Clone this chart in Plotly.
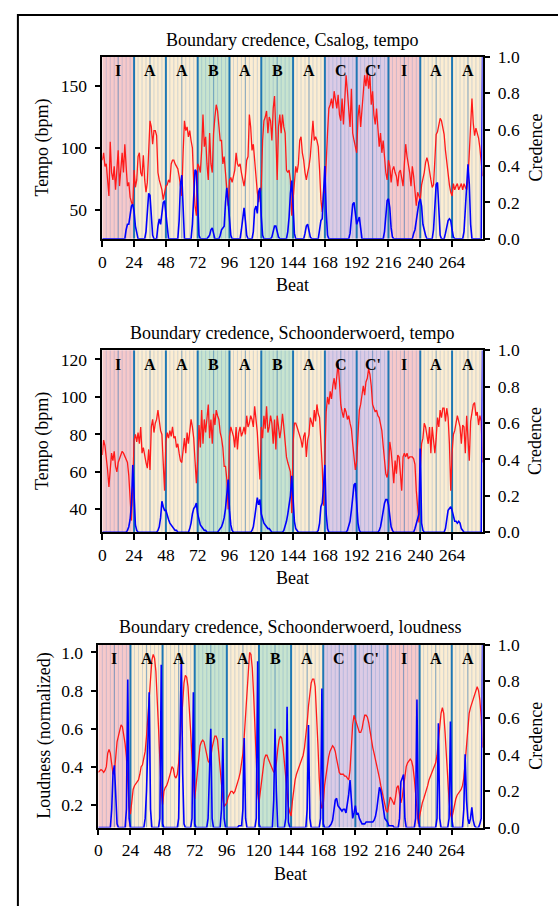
import plotly.graph_objects as go

W, H = 558, 906

beats = list(range(288))
section_labels = ["I", "A", "A", "B", "A", "B", "A", "C", "C'", "I", "A", "A"]
section_starts = [0, 24, 48, 72, 96, 120, 144, 168, 192, 216, 240, 264]
section_colors = {"I": "#f7c9ca", "A": "#fcedd2", "B": "#c8e4cf", "C": "#dccbe5", "C'": "#dccbe5"}

x_ticks = [0, 24, 48, 72, 96, 120, 144, 168, 192, 216, 240, 264]
cred_ticks = [0.0, 0.2, 0.4, 0.6, 0.8, 1.0]

# ---- Panel 1: Csalog tempo ----
csalog_tempo = [
    90, 96, 85, 87, 74, 61, 105, 80, 74, 85, 66, 86, 98, 69, 85, 96, 80, 103, 85, 69, 72, 60, 56, 53,
    82, 68, 74, 93, 96, 80, 77, 94, 74, 64, 72, 98, 122, 117, 103, 114, 114, 110, 80, 74, 69, 66, 58, 64,
    69, 70, 74, 72, 87, 90, 90, 87, 85, 83, 77, 69, 61, 96, 122, 114, 117, 109, 114, 106, 100, 72, 53, 45,
    87, 85, 80, 98, 127, 101, 109, 87, 74, 112, 87, 80, 112, 125, 135, 130, 117, 106, 106, 87, 93, 80, 64, 53,
    74, 76, 72, 76, 82, 96, 87, 85, 87, 80, 74, 69, 77, 90, 93, 127, 117, 98, 103, 90, 74, 64, 56, 64,
    69, 106, 122, 125, 130, 112, 125, 122, 106, 132, 142, 112, 74, 117, 127, 112, 127, 117, 112, 82, 80, 82, 74, 45,
    60, 74, 85, 80, 87, 106, 109, 96, 90, 80, 74, 80, 85, 93, 112, 122, 106, 109, 106, 101, 82, 58, 48, 64,
    64, 96, 112, 132, 135, 140, 132, 146, 140, 132, 143, 127, 122, 140, 119, 137, 159, 146, 127, 117, 148, 112, 106, 101,
    96, 125, 135, 117, 132, 143, 159, 150, 161, 148, 159, 135, 146, 127, 119, 132, 117, 101, 112, 96, 106, 90, 80, 74,
    90, 85, 72, 82, 85, 80, 77, 69, 80, 82, 74, 69, 87, 103, 93, 87, 80, 69, 85, 77, 64, 53, 64, 61,
    58, 70, 74, 80, 88, 92, 88, 79, 74, 68, 70, 90, 111, 113, 119, 124, 122, 116, 111, 98, 87, 76, 70, 64,
    61, 71, 66, 69, 71, 66, 69, 71, 66, 71, 68, 66, 74, 96, 108, 140, 120, 110, 116, 112, 108, 100, 90, 77,
]
csalog_credence = [
    0, 0, 0, 0, 0, 0, 0, 0, 0, 0, 0, 0, 0, 0, 0, 0, 0, 0, 0.05, 0.08, 0.08, 0.14, 0.18, 0.19,
    0.15, 0.07, 0.03, 0, 0, 0, 0, 0, 0, 0.04, 0.15, 0.25, 0.24, 0.1, 0.02, 0, 0, 0, 0.07, 0.11, 0.08, 0.15, 0.2, 0.21,
    0.14, 0.05, 0, 0, 0, 0, 0, 0, 0, 0, 0.1, 0.3, 0.35, 0.15, 0, 0, 0, 0, 0, 0, 0.08, 0.25, 0.38, 0.37,
    0.15, 0.02, 0, 0, 0, 0, 0, 0, 0.01, 0.02, 0.05, 0.06, 0.03, 0, 0, 0, 0, 0.02, 0.05, 0.06, 0.07, 0.2, 0.28, 0.2,
    0.08, 0.02, 0, 0, 0, 0, 0, 0, 0, 0.05, 0.13, 0.17, 0.1, 0.02, 0, 0, 0, 0, 0.04, 0.16, 0.18, 0.14, 0.26, 0.28,
    0.12, 0.02, 0, 0, 0, 0, 0, 0, 0.01, 0.04, 0.07, 0.07, 0.04, 0.01, 0, 0, 0, 0, 0, 0, 0.04, 0.12, 0.25, 0.32,
    0.18, 0.03, 0, 0, 0, 0, 0, 0, 0, 0.03, 0.07, 0.08, 0.04, 0.01, 0, 0, 0, 0, 0, 0, 0.05, 0.1, 0.11, 0.3,
    0.4, 0.15, 0.02, 0, 0, 0, 0, 0, 0, 0, 0, 0, 0, 0, 0, 0, 0, 0, 0, 0.03, 0.12, 0.19, 0.2, 0.14,
    0.08, 0.1, 0.12, 0.06, 0, 0, 0, 0, 0, 0, 0, 0, 0, 0, 0, 0, 0, 0, 0, 0, 0, 0.04, 0.14, 0.21,
    0.22, 0.17, 0.06, 0.01, 0, 0, 0, 0, 0, 0, 0, 0, 0, 0, 0, 0, 0, 0, 0, 0.03, 0.05, 0.1, 0.16, 0.2,
    0.22, 0.18, 0.08, 0.04, 0.02, 0, 0, 0, 0, 0, 0.05, 0.18, 0.3, 0.31, 0.12, 0.02, 0, 0, 0, 0.03, 0.07, 0.1, 0.11, 0.1,
    0.05, 0.01, 0, 0, 0, 0, 0, 0, 0, 0.04, 0.15, 0.3, 0.41, 0.3, 0.08, 0, 0, 0, 0, 0, 0, 0, 0, 1.0,
]

# ---- Panel 2: Schoonderwoerd tempo ----
schoon_tempo = [
    69, 77, 74, 68, 61, 52, 63, 70, 66, 71, 63, 60, 65, 67, 68, 71, 70, 68, 66, 65, 58, 45, 34, 52,
    77, 80, 76, 81, 75, 84, 70, 73, 68, 65, 62, 72, 61, 84, 88, 81, 86, 88, 93, 88, 82, 80, 68, 50,
    76, 81, 78, 82, 79, 84, 78, 79, 73, 75, 70, 66, 65, 72, 78, 70, 81, 75, 82, 88, 84, 78, 66, 54,
    66, 85, 73, 93, 75, 88, 81, 91, 96, 78, 88, 75, 91, 85, 93, 90, 88, 81, 78, 73, 63, 63, 56, 40,
    79, 84, 81, 79, 73, 84, 72, 81, 84, 79, 81, 84, 80, 90, 84, 86, 90, 88, 84, 95, 88, 81, 68, 56,
    84, 78, 90, 83, 95, 81, 84, 90, 86, 75, 88, 72, 90, 83, 78, 83, 91, 84, 75, 68, 65, 62, 60, 38,
    75, 86, 86, 84, 82, 80, 77, 73, 79, 81, 68, 77, 80, 89, 87, 84, 93, 87, 96, 91, 89, 77, 63, 42,
    70, 92, 100, 96, 103, 99, 106, 110, 104, 113, 118, 108, 96, 92, 89, 94, 92, 88, 90, 86, 83, 75, 66, 61,
    66, 80, 93, 96, 103, 106, 101, 108, 110, 115, 112, 106, 96, 94, 92, 93, 90, 89, 86, 82, 74, 66, 59, 57,
    62, 76, 71, 63, 54, 66, 59, 69, 68, 59, 50, 68, 70, 68, 70, 67, 68, 68, 68, 67, 64, 50, 40, 33,
    62, 75, 78, 86, 84, 80, 75, 84, 70, 84, 77, 70, 78, 89, 84, 93, 89, 94, 94, 87, 94, 89, 75, 50,
    70, 80, 82, 86, 90, 87, 84, 75, 85, 84, 70, 90, 77, 66, 87, 92, 96, 97, 90, 92, 85, 90, 87, 65,
]
schoon_tempo_credence = [
    0, 0, 0, 0, 0, 0, 0, 0, 0, 0, 0, 0, 0, 0, 0, 0, 0, 0, 0, 0.01, 0.03, 0.07, 0.15, 0.37,
    0.15, 0.04, 0.01, 0, 0, 0, 0, 0, 0, 0, 0, 0, 0, 0, 0, 0, 0, 0, 0.01, 0.03, 0.08, 0.17, 0.14, 0.12,
    0.12, 0.09, 0.07, 0.05, 0.04, 0.03, 0.02, 0.01, 0.01, 0, 0, 0, 0, 0, 0, 0, 0, 0, 0.02, 0.05, 0.1, 0.13, 0.14, 0.16,
    0.1, 0.06, 0.04, 0.03, 0.02, 0.01, 0.01, 0, 0, 0, 0, 0, 0, 0, 0, 0, 0.01, 0.02, 0.03, 0.05, 0.08, 0.13, 0.2, 0.29,
    0.12, 0.04, 0.01, 0, 0, 0, 0, 0, 0, 0, 0, 0, 0, 0, 0, 0, 0, 0.01, 0.03, 0.08, 0.15, 0.19, 0.15, 0.18,
    0.1, 0.07, 0.05, 0.04, 0.03, 0.02, 0.02, 0.01, 0, 0, 0, 0, 0, 0, 0, 0, 0, 0.01, 0.03, 0.06, 0.1, 0.14, 0.2, 0.31,
    0.2, 0.06, 0.02, 0.01, 0, 0, 0, 0, 0, 0, 0, 0, 0, 0, 0, 0, 0, 0, 0, 0.01, 0.05, 0.14, 0.16, 0.25,
    0.37, 0.1, 0.02, 0, 0, 0, 0, 0, 0, 0, 0, 0, 0, 0, 0, 0, 0, 0.01, 0.03, 0.06, 0.12, 0.19, 0.26, 0.27,
    0.15, 0.05, 0.01, 0, 0, 0, 0, 0, 0, 0, 0, 0, 0, 0, 0, 0, 0, 0.01, 0.03, 0.07, 0.12, 0.16, 0.18, 0.18,
    0.15, 0.08, 0.03, 0.01, 0, 0, 0, 0, 0, 0, 0, 0, 0, 0, 0, 0, 0, 0, 0, 0, 0.02, 0.05, 0.07, 0.1,
    0.46, 0.05, 0.01, 0, 0, 0, 0, 0, 0, 0, 0, 0, 0, 0, 0, 0, 0, 0, 0, 0.02, 0.06, 0.12, 0.13, 0.14,
    0.12, 0.08, 0.06, 0.06, 0.05, 0.06, 0.05, 0.02, 0.01, 0, 0, 0, 0, 0, 0, 0, 0, 0, 0, 0, 0, 0, 0, 1.0,
]

# ---- Panel 3: Schoonderwoerd loudness ----
schoon_loudness = [
    0.37, 0.38, 0.385, 0.38, 0.37, 0.38, 0.40, 0.47, 0.49, 0.47, 0.40, 0.36, 0.37, 0.45, 0.53, 0.56, 0.60, 0.62, 0.61, 0.57, 0.52, 0.45, 0.33, 0.19,
    0.15, 0.22, 0.28, 0.30, 0.31, 0.32, 0.33, 0.36, 0.40, 0.41, 0.44, 0.48, 0.56, 0.66, 0.78, 0.90, 0.96, 0.99, 0.97, 0.90, 0.78, 0.60, 0.43, 0.27,
    0.20, 0.27, 0.29, 0.30, 0.32, 0.34, 0.37, 0.40, 0.39, 0.35, 0.34, 0.36, 0.42, 0.52, 0.64, 0.76, 0.84, 0.88, 0.87, 0.82, 0.72, 0.58, 0.44, 0.30,
    0.23, 0.30, 0.38, 0.46, 0.51, 0.53, 0.54, 0.53, 0.50, 0.46, 0.43, 0.42, 0.45, 0.50, 0.54, 0.56, 0.56, 0.54, 0.47, 0.38, 0.30, 0.23, 0.19, 0.20,
    0.21, 0.24, 0.26, 0.27, 0.27, 0.26, 0.27, 0.29, 0.31, 0.34, 0.37, 0.41, 0.47, 0.56, 0.68, 0.82, 0.94, 1.00, 0.99, 0.92, 0.78, 0.58, 0.40, 0.26,
    0.21, 0.27, 0.34, 0.40, 0.44, 0.46, 0.46, 0.44, 0.42, 0.40, 0.38, 0.37, 0.38, 0.42, 0.49, 0.54, 0.56, 0.55, 0.50, 0.42, 0.33, 0.25, 0.19, 0.16,
    0.14, 0.22, 0.28, 0.33, 0.36, 0.38, 0.40, 0.42, 0.44, 0.46, 0.50, 0.56, 0.63, 0.72, 0.79, 0.84, 0.86, 0.86, 0.82, 0.70, 0.52, 0.34, 0.22, 0.18,
    0.20, 0.30, 0.36, 0.41, 0.45, 0.48, 0.50, 0.51, 0.50, 0.48, 0.44, 0.40, 0.37, 0.36, 0.36, 0.36, 0.35, 0.35, 0.34, 0.33, 0.38, 0.50, 0.62, 0.67,
    0.65, 0.62, 0.60, 0.58, 0.58, 0.60, 0.64, 0.67, 0.67, 0.66, 0.63, 0.58, 0.54, 0.50, 0.47, 0.44, 0.41, 0.37, 0.34, 0.30, 0.27, 0.23, 0.20, 0.17,
    0.16, 0.20, 0.24, 0.23, 0.21, 0.20, 0.24, 0.29, 0.30, 0.25, 0.21, 0.24, 0.30, 0.35, 0.40, 0.42, 0.43, 0.44, 0.43, 0.40, 0.34, 0.25, 0.15, 0.10,
    0.14, 0.18, 0.21, 0.23, 0.25, 0.27, 0.30, 0.33, 0.35, 0.37, 0.38, 0.40, 0.42, 0.46, 0.54, 0.62, 0.68, 0.71, 0.68, 0.58, 0.45, 0.32, 0.22, 0.15,
    0.13, 0.16, 0.20, 0.23, 0.25, 0.26, 0.27, 0.28, 0.30, 0.34, 0.42, 0.52, 0.62, 0.68, 0.71, 0.73, 0.75, 0.77, 0.80, 0.82, 0.80, 0.75, 0.66, 0.50,
]
schoon_loudness_credence = [
    0, 0, 0, 0, 0, 0, 0, 0, 0, 0, 0.1, 0.3, 0.34, 0.15, 0.02, 0, 0, 0, 0, 0, 0, 0.1, 0.81, 0.05,
    0, 0, 0, 0, 0, 0, 0, 0, 0, 0, 0, 0.05, 0.2, 0.45, 0.74, 0.1, 0, 0, 0, 0, 0, 0, 0.05, 0.89,
    0.02, 0, 0, 0, 0, 0, 0, 0, 0, 0, 0, 0, 0.05, 0.5, 0.93, 0.3, 0.02, 0, 0, 0, 0, 0, 0.05, 0.74,
    0.02, 0, 0, 0, 0, 0, 0, 0, 0, 0, 0.05, 0.3, 0.54, 0.05, 0, 0, 0, 0, 0, 0, 0.1, 0.49, 0.05, 0,
    0, 0, 0, 0, 0, 0, 0, 0, 0, 0.01, 0.01, 0.01, 0.1, 0.49, 0.05, 0, 0, 0, 0, 0, 0, 0, 0.05, 0.91,
    0.02, 0, 0, 0, 0, 0, 0, 0, 0, 0, 0, 0.15, 0.54, 0.2, 0, 0, 0, 0, 0, 0, 0.05, 0.66, 0.03, 0,
    0, 0, 0, 0, 0, 0, 0, 0, 0, 0, 0, 0, 0.1, 0.56, 0.05, 0, 0, 0, 0, 0, 0, 0, 0.05, 0.76,
    0.02, 0, 0, 0, 0, 0.01, 0.02, 0.04, 0.1, 0.15, 0.16, 0.12, 0.11, 0.1, 0.09, 0.1, 0.1, 0.08, 0.12, 0.18, 0.26, 0.12, 0.05, 0.08,
    0.12, 0.07, 0.08, 0.05, 0.03, 0.02, 0.02, 0.02, 0.03, 0.03, 0.03, 0.03, 0.03, 0.03, 0.04, 0.06, 0.1, 0.17, 0.22, 0.2, 0.14, 0.08, 0.05, 0.04,
    0.03, 0.01, 0.01, 0.01, 0.01, 0, 0, 0, 0, 0.05, 0.25, 0.27, 0.29, 0.05, 0, 0, 0, 0, 0, 0, 0, 0.05, 0.7, 0.05,
    0, 0, 0, 0, 0, 0, 0, 0, 0, 0, 0, 0, 0, 0.05, 0.57, 0.05, 0, 0, 0, 0, 0, 0, 0.05, 0.58,
    0.05, 0, 0, 0, 0, 0, 0, 0, 0, 0.1, 0.4, 0.15, 0.05, 0.02, 0.05, 0.11, 0.04, 0.01, 0, 0, 0, 0.02, 0.05, 1.0,
]

panels = [
    dict(feature=csalog_tempo, credence=csalog_credence,
         title="Boundary credence, Csalog, tempo", ylabel="Tempo (bpm)",
         yrange=[26.2, 173.8], yticks=[50, 100, 150], ytext=["50", "100", "150"],
         box=(99, 482, 48, 234), title_y=31, beat_y=281, ylab_x=39),
    dict(feature=schoon_tempo, credence=schoon_tempo_credence,
         title="Boundary credence, Schoonderwoerd, tempo", ylabel="Tempo (bpm)",
         yrange=[27.8, 124.9], yticks=[40, 60, 80, 100, 120], ytext=["40", "60", "80", "100", "120"],
         box=(99, 482, 348, 534), title_y=330, beat_y=581, ylab_x=39),
    dict(feature=schoon_loudness, credence=schoon_loudness_credence,
         title="Boundary credence, Schoonderwoerd, loudness", ylabel="Loudness (normalized)",
         yrange=[0.08, 1.041], yticks=[0.2, 0.4, 0.6, 0.8, 1.0], ytext=["0.2", "0.4", "0.6", "0.8", "1.0"],
         box=(95, 482, 649, 836), title_y=631, beat_y=884, ylab_x=40),
]

FONT = "Liberation Serif"
fig = go.Figure()
shapes = []
annotations = []
layout = {}
x_max = beats[-1]


def px_x(v):
    return v / W


def px_y(v):
    return 1 - v / H


for i, p in enumerate(panels):
    n = i + 1
    xa = "x" if n == 1 else f"x{n}"
    ya = "y" if n == 1 else f"y{2 * n - 1}"
    ya2 = f"y{2 * n}"
    xkey = "xaxis" if n == 1 else f"xaxis{n}"
    ykey = "yaxis" if n == 1 else f"yaxis{2 * n - 1}"
    y2key = f"yaxis{2 * n}"
    x0, x1, top, bot = p["box"]
    y0, y1 = p["yrange"]

    for lab, s in zip(section_labels, section_starts):
        shapes.append(dict(type="rect", xref=xa, yref=f"{ya} domain", x0=s, x1=min(s + 24, x_max),
                           y0=0, y1=1, fillcolor=section_colors[lab], line=dict(width=0), layer="below"))
        annotations.append(dict(x=s + 12, xref=xa, y=px_y(top + 14), yref="paper", text=f"<b>{lab}</b>",
                                showarrow=False, xanchor="center", yanchor="middle",
                                font=dict(family=FONT, size=16, color="black")))

    thin_x, thin_y, mid_x, mid_y, thick_x, thick_y = [], [], [], [], [], []
    for b in range(3, x_max + 1, 3):
        if b % 24 == 0:
            thick_x += [b, b, None]; thick_y += [y0, y1, None]
        elif b % 12 == 0:
            mid_x += [b, b, None]; mid_y += [y0, y1, None]
        else:
            thin_x += [b, b, None]; thin_y += [y0, y1, None]
    fig.add_trace(go.Scatter(x=thin_x, y=thin_y, mode="lines", xaxis=xa, yaxis=ya,
                             line=dict(color="rgba(70,130,200,0.24)", width=1), hoverinfo="skip", showlegend=False))
    fig.add_trace(go.Scatter(x=mid_x, y=mid_y, mode="lines", xaxis=xa, yaxis=ya,
                             line=dict(color="rgba(40,110,175,0.5)", width=1.2), hoverinfo="skip", showlegend=False))
    fig.add_trace(go.Scatter(x=thick_x, y=thick_y, mode="lines", xaxis=xa, yaxis=ya,
                             line=dict(color="#1f77b4", width=2), hoverinfo="skip", showlegend=False))

    fig.add_trace(go.Scatter(x=beats, y=p["feature"], mode="lines", xaxis=xa, yaxis=ya,
                             line=dict(color="#ff1a1a", width=1.3), hoverinfo="skip", showlegend=False))
    fig.add_trace(go.Scatter(x=beats, y=p["credence"], mode="lines", xaxis=xa, yaxis=ya2,
                             line=dict(color="#0000ff", width=1.6), hoverinfo="skip", showlegend=False))

    tickfont = dict(family=FONT, size=17.5, color="black")
    layout[xkey] = dict(domain=[px_x(x0), px_x(x1)], anchor=ya, range=[0, x_max],
                        tickvals=x_ticks, ticktext=[str(t) for t in x_ticks], tickfont=tickfont,
                        ticks="outside", ticklen=6, tickwidth=1.5, tickcolor="black",
                        showline=True, linecolor="black", linewidth=1.5, mirror=True,
                        showgrid=False, zeroline=False, fixedrange=True)
    layout[ykey] = dict(domain=[px_y(bot), px_y(top)], anchor=xa, range=[y0, y1],
                        tickvals=p["yticks"], ticktext=p["ytext"], tickfont=tickfont,
                        ticks="outside", ticklen=6, tickwidth=1.5, tickcolor="black",
                        showline=True, linecolor="black", linewidth=1.5,
                        showgrid=False, zeroline=False, fixedrange=True, ticklabelstandoff=4)
    layout[y2key] = dict(overlaying=ya, anchor=xa, side="right", range=[0, 1],
                         tickvals=cred_ticks, ticktext=[f"{t:.1f}" for t in cred_ticks], tickfont=tickfont,
                         ticks="outside", ticklen=6, tickwidth=1.5, tickcolor="black",
                         showline=True, linecolor="black", linewidth=1.5,
                         showgrid=False, zeroline=False, fixedrange=True, ticklabelstandoff=4)

    cx = (x0 + x1) / 2
    cy = (top + bot) / 2
    big = dict(family=FONT, size=18, color="black")
    annotations.append(dict(x=px_x(cx), y=px_y(p["title_y"]), xref="paper", yref="paper", text=p["title"],
                            showarrow=False, xanchor="center", yanchor="middle", font=big))
    annotations.append(dict(x=px_x(cx), y=px_y(p["beat_y"]), xref="paper", yref="paper", text="Beat",
                            showarrow=False, xanchor="center", yanchor="middle", font=big))
    annotations.append(dict(x=px_x(p["ylab_x"]), y=px_y(cy), xref="paper", yref="paper", text=p["ylabel"],
                            showarrow=False, xanchor="center", yanchor="middle", textangle=-90, font=big))
    annotations.append(dict(x=px_x(535.5), y=px_y(cy), xref="paper", yref="paper", text="Credence",
                            showarrow=False, xanchor="center", yanchor="middle", textangle=-90, font=big))

shapes.append(dict(type="rect", xref="paper", yref="paper", x0=px_x(14), x1=1.02, y0=-0.02, y1=px_y(5),
                   line=dict(color="black", width=2), fillcolor="rgba(0,0,0,0)", layer="above"))

fig.update_layout(
    width=W, height=H, margin=dict(l=0, r=0, t=0, b=0),
    paper_bgcolor="white", plot_bgcolor="white",
    shapes=shapes, annotations=annotations, showlegend=False,
    font=dict(family=FONT, size=17.5, color="black"),
    **layout,
)

fig.write_html("out.html", config={"displayModeBar": False})

with open("out.html", "r", encoding="utf-8") as f:
    html = f.read()
html = html.replace("<head>", "<head><style>html,body{margin:0;padding:0;overflow:hidden;}</style>", 1)
with open("out.html", "w", encoding="utf-8") as f:
    f.write(html)
